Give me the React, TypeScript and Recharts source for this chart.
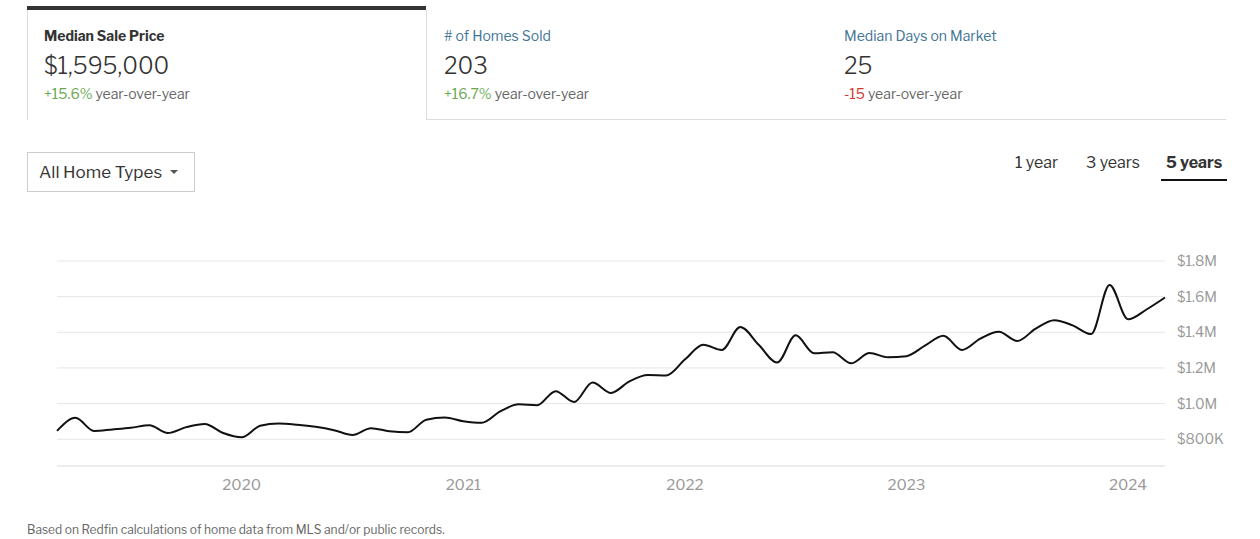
import { LineChart, Line, XAxis, YAxis, CartesianGrid } from "recharts"

const months = [
  "2019-03", "2019-04", "2019-05", "2019-06", "2019-07", "2019-08", "2019-09", "2019-10", "2019-11", "2019-12",
  "2020-01", "2020-02", "2020-03", "2020-04", "2020-05", "2020-06", "2020-07", "2020-08", "2020-09", "2020-10", "2020-11", "2020-12",
  "2021-01", "2021-02", "2021-03", "2021-04", "2021-05", "2021-06", "2021-07", "2021-08", "2021-09", "2021-10", "2021-11", "2021-12",
  "2022-01", "2022-02", "2022-03", "2022-04", "2022-05", "2022-06", "2022-07", "2022-08", "2022-09", "2022-10", "2022-11", "2022-12",
  "2023-01", "2023-02", "2023-03", "2023-04", "2023-05", "2023-06", "2023-07", "2023-08", "2023-09", "2023-10", "2023-11", "2023-12",
  "2024-01", "2024-02", "2024-03",
]

const medianPrices = [
  847000, 920000, 847000, 855000, 864000, 879000, 835000, 868000, 886000, 835000,
  811000, 876000, 889000, 882000, 870000, 851000, 824000, 862000, 845000, 839000, 910000, 922000,
  901000, 892000, 956000, 996000, 991000, 1070000, 1009000, 1119000, 1060000, 1125000, 1160000, 1158000,
  1247000, 1330000, 1301000, 1430000, 1330000, 1230000, 1383000, 1282000, 1288000, 1226000, 1284000, 1260000,
  1266000, 1325000, 1380000, 1301000, 1365000, 1403000, 1351000, 1421000, 1468000, 1439000, 1390000, 1666000,
  1473000, 1528000, 1595000,
]

const yearTicks = ["2020", "2021", "2022", "2023", "2024"]
const priceTicks = [800000, 1000000, 1200000, 1400000, 1600000, 1800000]
const priceDomain = [650000, 1800000]

const stats = [
  { label: "Median Sale Price", value: "$1,595,000", change: "+15.6%", up: true },
  { label: "# of Homes Sold", value: "203", change: "+16.7%", up: true },
  { label: "Median Days on Market", value: "25", change: "-15", up: false },
]

const ranges = ["1 year", "3 years", "5 years"]

const data = months.map((m, i) => ({ idx: i, month: m, price: medianPrices[i] }))
const xTicks = yearTicks.map((y) => months.indexOf(`${y}-01`))

const FONT = "'Libre Franklin', Lato, 'Open Sans', sans-serif"

function formatPrice(v: number): string {
  if (v >= 1000000) return `$${(v / 1000000).toFixed(1)}M`
  return `$${Math.round(v / 1000)}K`
}

function StatTab({ stat, active, left }: { stat: (typeof stats)[number]; active: boolean; left: number }) {
  return (
    <div style={{ position: "absolute", left, top: 0, width: 400 }}>
      <div
        style={{
          position: "absolute",
          left: 17,
          top: 27,
          fontSize: 14,
          fontWeight: active ? 700 : 400,
          color: active ? "#333" : "#3f7596",
          whiteSpace: "nowrap",
        }}
      >
        {stat.label}
      </div>
      <div style={{ position: "absolute", left: 17, top: 52, fontSize: 23, fontWeight: 300, color: "#333" }}>
        {stat.value}
      </div>
      <div style={{ position: "absolute", left: 17, top: 85, fontSize: 14, color: "#666", whiteSpace: "nowrap" }}>
        <span style={{ color: stat.up ? "#6aa84f" : "#d3382e" }}>{stat.change}</span> year-over-year
      </div>
    </div>
  )
}

export default function App() {
  return (
    <div
      style={{
        position: "absolute",
        left: 0,
        top: 0,
        width: 1260,
        height: 539,
        background: "#fff",
        fontFamily: FONT,
        overflow: "hidden",
      }}
    >
      {/* tab strip */}
      <div style={{ position: "absolute", left: 27, top: 6, width: 399, height: 4, background: "#333" }} />
      <div style={{ position: "absolute", left: 27, top: 10, width: 1, height: 110, background: "#ddd" }} />
      <div style={{ position: "absolute", left: 426, top: 10, width: 1, height: 110, background: "#ddd" }} />
      <div style={{ position: "absolute", left: 426, top: 119, width: 800, height: 1, background: "#ddd" }} />
      {stats.map((s, i) => (
        <StatTab key={s.label} stat={s} active={i === 0} left={27 + i * 400} />
      ))}

      {/* home type dropdown */}
      <div
        style={{
          position: "absolute",
          left: 27,
          top: 152,
          width: 166,
          height: 38,
          border: "1px solid #ccc",
        }}
      >
        <span style={{ position: "absolute", left: 11, top: 9, fontSize: 17, color: "#333" }}>All Home Types</span>
        <span
          style={{
            position: "absolute",
            left: 142,
            top: 17,
            width: 0,
            height: 0,
            borderLeft: "4px solid transparent",
            borderRight: "4px solid transparent",
            borderTop: "4px solid #555",
          }}
        />
      </div>

      {/* time range toggle */}
      {ranges.map((r, i) => {
        const lefts = [1015, 1086, 1166]
        const active = i === ranges.length - 1
        return (
          <div
            key={r}
            style={{
              position: "absolute",
              left: lefts[i],
              top: 153,
              fontSize: 16,
              fontWeight: active ? 700 : 400,
              color: "#333",
              whiteSpace: "nowrap",
            }}
          >
            {r}
          </div>
        )
      })}
      <div style={{ position: "absolute", left: 1161, top: 179, width: 66, height: 2, background: "#111" }} />

      {/* chart */}
      <div style={{ position: "absolute", left: 0, top: 240 }}>
        <LineChart width={1260} height={270} data={data} margin={{ top: 21, right: 0, bottom: 14, left: 57 }}>
          <CartesianGrid vertical={false} stroke="#e6e6e6" />
          <XAxis
            dataKey="idx"
            type="number"
            domain={[0, months.length - 1]}
            ticks={xTicks}
            tickFormatter={(v) => months[v]?.slice(0, 4) ?? ""}
            tickLine={false}
            axisLine={{ stroke: "#e6e6e6" }}
            tickMargin={7}
            height={30}
            tick={{ fontSize: 15, fill: "#999", fontFamily: FONT }}
          />
          <YAxis
            orientation="right"
            domain={priceDomain}
            ticks={priceTicks}
            tickFormatter={formatPrice}
            tickLine={false}
            axisLine={false}
            tickMargin={6}
            width={95}
            tick={{ fontSize: 14, fill: "#999", fontFamily: FONT, textAnchor: "start" }}
          />
          <Line
            type="monotone"
            dataKey="price"
            stroke="#111"
            strokeWidth={2}
            dot={false}
            activeDot={false}
            isAnimationActive={false}
          />
        </LineChart>
      </div>

      <div style={{ position: "absolute", left: 27, top: 522, fontSize: 12, color: "#666", whiteSpace: "nowrap" }}>
        Based on Redfin calculations of home data from MLS and/or public records.
      </div>
    </div>
  )
}
